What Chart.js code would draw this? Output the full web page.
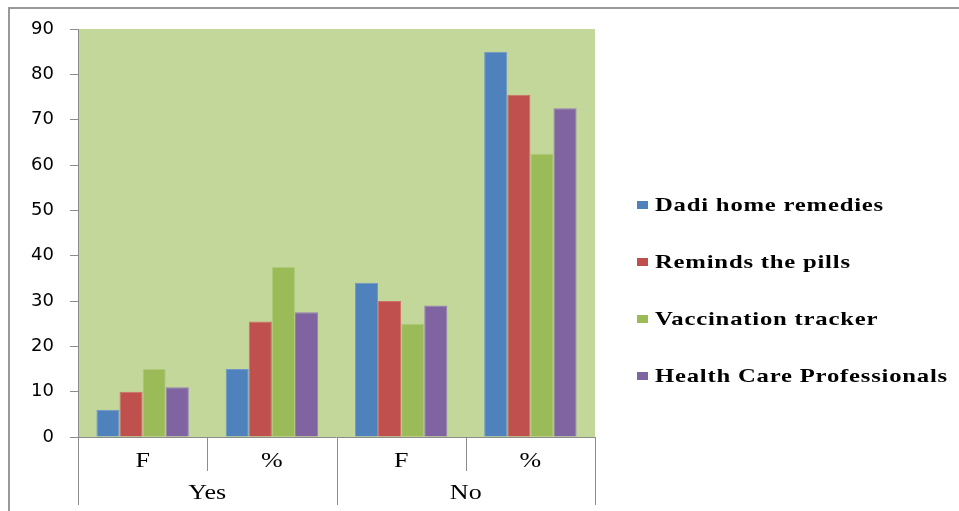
<!DOCTYPE html>
<html>
<head>
<meta charset="utf-8">
<title>Uso de aplicaciones de salud</title>
<script src="https://cdn.jsdelivr.net/npm/chart.js@4.4.0/dist/chart.umd.min.js"></script>
<style>
    html, body { margin: 0; padding: 0; background: #fff; }
    #marco { position: relative; width: 959px; height: 511px; overflow: hidden; }
    #grafico { position: absolute; left: 0; top: 0; }
    #leyenda { position: absolute; left: 637px; top: 0; }
    .item {
        position: absolute; left: 0; height: 24px; line-height: 24px; white-space: nowrap;
        display: flex; align-items: center;
    }
    .item .caja { display: inline-block; width: 11px; height: 8px; margin-right: 7px; }
    .item .texto {
        display: inline-block; transform: scaleX(1.3); transform-origin: left center;
        font-family: 'Liberation Serif', 'Times New Roman', serif; font-weight: bold;
        font-size: 19px; letter-spacing: 0.6px; color: #000;
    }
</style>
</head>
<body>
<div id="marco">
    <canvas id="grafico" width="959" height="511"></canvas>
    <div id="leyenda"></div>
</div>
<script>
const categorias = ['F', '%', 'F', '%'];
const grupos = ['Yes', 'No'];
const series = ['Dadi home remedies', 'Reminds the pills', 'Vaccination tracker', 'Health Care Professionals'];
const colores = ['#4F81BD', '#C0504D', '#9BBB59', '#8064A2'];
const bordes = ['#6E98CB', '#CE706D', '#AFCA78', '#977FB6'];

const dadi = [6, 15, 34, 85];
const pastillas = [10, 25.5, 30, 75.5];
const vacunas = [15, 37.5, 25, 62.5];
const profesionales = [11, 27.5, 29, 72.5];

const ticksY = [0, 10, 20, 30, 40, 50, 60, 70, 80, 90];

const valores = [dadi, pastillas, vacunas, profesionales];
const gris = '#8C8C8C';

// fondo verde del área de trazado, marco exterior y eje de categorías en dos niveles
const decoracion = {
    id: 'decoracion',
    beforeDraw(chart) {
        const { ctx, chartArea: a } = chart;
        ctx.save();
        ctx.fillStyle = '#C4D79B';
        ctx.fillRect(a.left, a.top, a.right - a.left, a.bottom - a.top);
        ctx.strokeStyle = '#999';
        ctx.lineWidth = 2;
        ctx.beginPath();
        ctx.moveTo(9, 520);
        ctx.lineTo(9, 8);
        ctx.lineTo(970, 8);
        ctx.stroke();
        ctx.restore();
    },
    afterDraw(chart) {
        const { ctx, chartArea: a } = chart;
        const x = chart.scales.x;
        const ancho = (a.right - a.left) / categorias.length;
        ctx.save();
        ctx.strokeStyle = gris;
        ctx.lineWidth = 1;
        ctx.beginPath();
        ctx.moveTo(a.left, a.bottom + 0.5);
        ctx.lineTo(a.right, a.bottom + 0.5);
        for (let i = 0; i <= categorias.length; i++) {
            const px = Math.round(a.left + i * ancho) + 0.5;
            ctx.moveTo(px, a.bottom);
            ctx.lineTo(px, i % 2 === 0 ? a.bottom + 68 : a.bottom + 34);
        }
        ctx.stroke();

        ctx.fillStyle = '#000';
        ctx.textAlign = 'center';
        ctx.textBaseline = 'middle';
        ctx.font = '20px "Liberation Serif", "Times New Roman", serif';
        const escribir = (texto, cx, cy) => {
            ctx.save();
            ctx.translate(cx, cy);
            ctx.scale(1.3, 1);
            ctx.fillText(texto, 0, 0);
            ctx.restore();
        };
        categorias.forEach((c, i) => escribir(c, x.getPixelForValue(i), a.bottom + 25));
        grupos.forEach((g, i) => escribir(g, a.left + (i * 2 + 1) * ancho, a.bottom + 57));
        ctx.restore();
    }
};

new Chart(document.getElementById('grafico'), {
    type: 'bar',
    data: {
        labels: categorias,
        datasets: series.map((nombre, i) => ({
            label: nombre,
            data: valores[i],
            backgroundColor: colores[i],
            borderColor: bordes[i],
            borderWidth: 1,
            borderSkipped: 'bottom',
            categoryPercentage: 0.715,
            barPercentage: 1
        }))
    },
    options: {
        responsive: false,
        animation: false,
        layout: { padding: { left: 0, top: 29, right: 364, bottom: 74 } },
        plugins: {
            legend: { display: false },
            tooltip: { enabled: false }
        },
        scales: {
            x: { display: false },
            y: {
                min: 0,
                max: 90,
                afterFit(scale) { scale.width = 78; },
                afterBuildTicks(scale) { scale.ticks = ticksY.map(v => ({ value: v })); },
                border: { display: true, color: gris, width: 1 },
                grid: { drawOnChartArea: false, drawTicks: true, tickLength: 8, color: gris },
                ticks: {
                    padding: 16,
                    color: '#000',
                    font: { family: '"DejaVu Sans", sans-serif', size: 18 }
                }
            }
        }
    },
    plugins: [decoracion]
});

// leyenda a la derecha
const leyenda = document.getElementById('leyenda');
series.forEach((nombre, i) => {
    const item = document.createElement('div');
    item.className = 'item';
    item.style.top = (205 + i * 57 - 12) + 'px';
    item.innerHTML = `<span class="caja" style="background:${colores[i]}"></span><span class="texto">${nombre}</span>`;
    leyenda.appendChild(item);
});
</script>
</body>
</html>
